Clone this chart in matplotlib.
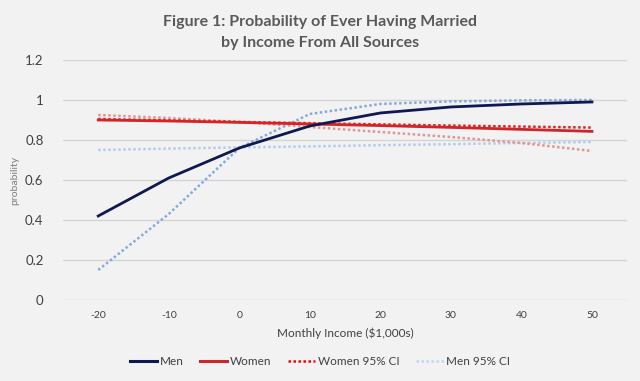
import matplotlib
matplotlib.use('Agg')
import matplotlib.pyplot as plt
import matplotlib.ticker as ticker
from matplotlib.lines import Line2D

plt.rcParams.update({'font.family': ['Lato', 'DejaVu Sans'], 'font.size': 9,
                     'axes.unicode_minus': False})

income = [-20, -10, 0, 10, 20, 30, 40, 50]
men = [0.42, 0.61, 0.76, 0.87, 0.935, 0.965, 0.98, 0.99]
women = [0.90, 0.895, 0.888, 0.880, 0.872, 0.863, 0.853, 0.843]
women_ci_hi = [0.905, 0.898, 0.890, 0.884, 0.878, 0.872, 0.867, 0.862]
women_ci_lo = [0.925, 0.91, 0.89, 0.865, 0.84, 0.815, 0.785, 0.745]
men_ci_hi = [0.15, 0.43, 0.76, 0.93, 0.98, 0.993, 0.998, 1.0]
men_ci_lo = [0.75, 0.757, 0.763, 0.768, 0.774, 0.779, 0.785, 0.79]

BG = '#f2f2f2'
fig = plt.figure(figsize=(6.4, 3.81), dpi=100, facecolor=BG)
ax = fig.add_axes([0.0984, 0.2126, 0.8816, 0.63], facecolor=BG)

dot = (0, (1, 1))
ax.plot(income, men_ci_lo, color='#b4cbec', lw=1.8, ls=dot)
ax.plot(income, women_ci_lo, color='#e59393', lw=1.8, ls=dot)
ax.plot(income, men_ci_hi, color='#86a9dd', lw=1.8, ls=dot)
ax.plot(income, women, color='#c8282c', lw=2)
ax.plot(income, women_ci_hi, color='#ee1c1c', lw=1.8, ls=dot)
ax.plot(income, men, color='#0e1a4f', lw=2)

ax.set_xlim(-25, 55)
ax.set_ylim(0, 1.2)
ax.set_xticks(income)
ax.set_yticks([0, 0.2, 0.4, 0.6, 0.8, 1.0, 1.2])
ax.yaxis.set_major_formatter(ticker.FuncFormatter(lambda v, _: f'{v:g}'))
ax.tick_params(axis='both', length=0, colors='#404040')
ax.tick_params(axis='x', labelsize=7.5, pad=8)
ax.tick_params(axis='y', labelsize=9.5, pad=14)
ax.grid(axis='y', color='#d4d4d4', lw=1)
ax.set_axisbelow(True)
for s in ax.spines.values():
    s.set_visible(False)

ax.set_xlabel('Monthly Income ($1,000s)', fontsize=8.5, color='#404040', labelpad=5)
ax.set_ylabel('probability', fontsize=7.5, color='#7f7f7f', labelpad=4)

fig.suptitle('Figure 1: Probability of Ever Having Married\nby Income From All Sources',
             x=0.5, y=0.96, fontsize=11.5, fontweight='bold', color='#595959',
             linespacing=1.6)

handles = [Line2D([], [], color='#0e1a4f', lw=2.2),
           Line2D([], [], color='#c8282c', lw=2.2),
           Line2D([], [], color='#ff0000', lw=1.8, ls=dot),
           Line2D([], [], color='#c5d6ef', lw=1.8, ls=dot)]
labels = ['Men', 'Women', 'Women 95% CI', 'Men 95% CI']
fig.legend(handles, labels, loc='center', bbox_to_anchor=(0.5, 0.05), ncol=4,
           frameon=False, fontsize=8.5, handlelength=2.3, handletextpad=0.25,
           columnspacing=1.4, labelcolor='#404040')

plt.savefig('out.png', dpi=100, facecolor=BG)
plt.close()
